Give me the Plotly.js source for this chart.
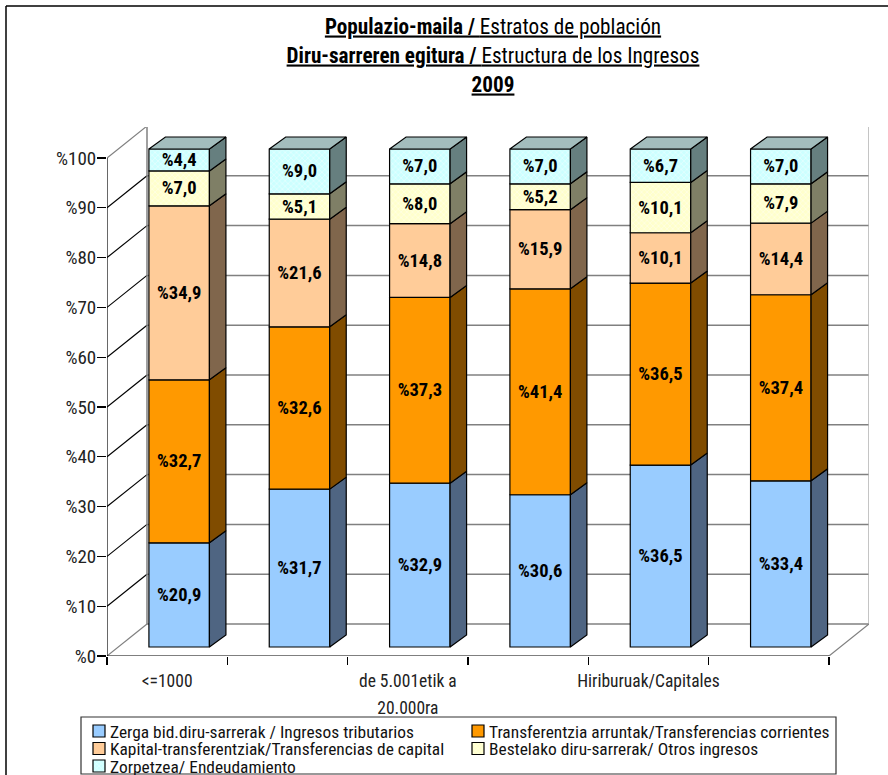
<!DOCTYPE html>
<html><head><meta charset="utf-8">
<script src="https://cdn.plot.ly/plotly-3.0.1.min.js"></script>
<style>html,body{margin:0;padding:0;background:#fff}</style>
</head><body><div id="chart" style="width:888px;height:775px"></div>
<script>
var categories = ["<=1000","","de 5.001etik a 20.000ra","","Hiriburuak/Capitales",""];
var tributarios  = [20.9,31.7,32.9,30.6,36.5,33.4];
var corrientes   = [32.7,32.6,37.3,41.4,36.5,37.4];
var capital      = [34.9,21.6,14.8,15.9,10.1,14.4];
var otros        = [7.0,5.1,8.0,5.2,10.1,7.9];
var endeudamiento= [4.4,9.0,7.0,7.0,6.7,7.0];
var seriesValues = [tributarios,corrientes,capital,otros,endeudamiento];
var seriesNames = ["Zerga bid.diru-sarrerak / Ingresos tributarios","Transferentzia arruntak/Transferencias corrientes","Kapital-transferentziak/Transferencias de capital","Bestelako diru-sarrerak/ Otros ingresos","Zorpetzea/ Endeudamiento"];
var frontColors = ["#99CCFF","#FF9900","#FFCC99","#FFFFCC","#CCFFFF"];
var sideColors  = ["#4F6582","#804C00","#80664C","#7F7F66","#667F7F"];
var topColor = "#A3BDBD";
var yTicks = [0,10,20,30,40,50,60,70,80,90,100];

var FONT = '"Roboto Condensed",Roboto,"Liberation Sans",sans-serif';
var PXX = 120.33, PXY = 4.98;
var W=888,H=775,L=107,R=19,T=127,B=119;
var wallDX = 40/PXX, wallDY = 32/PXY;
var barDX = 12/PXX, barBase = 9/PXY, barW = 60.5/PXX, depthX = 16.5/PXX, depthY = 12/PXY;
var xMax = (W-L-R)/PXX, yMax = (H-T-B)/PXY;
function px2paperX(p){return (p-L)/(W-L-R);}
function px2paperY(p){return (H-B-p)/(H-T-B);}

var traces=[], totals=categories.map(function(_,i){return seriesValues.reduce(function(s,a){return s+a[i];},0);});
var cum=categories.map(function(){return 0;});
var sideTraces=[], topX=[], topY=[];
seriesValues.forEach(function(vals,s){
  var scaled=vals.map(function(v,i){return v/totals[i]*100;});
  var base=cum.map(function(c){return c+barBase;});
  var pattern = s>=3 ? {shape:"x",bgcolor:frontColors[s],fgcolor:"#ffffff",fgopacity:0.7,size:4,solidity:0.25} : {shape:""};
  traces.push({type:"bar",name:seriesNames[s],x:categories.map(function(_,i){return i+0.5+barDX;}),
    y:scaled,base:base,width:barW,
    marker:{color:frontColors[s],line:{color:"#000",width:1.2},pattern:pattern},
    text:vals.map(function(v){return "%"+v.toFixed(1).replace(".",",");}),
    textposition:"inside",insidetextanchor:"middle",textangle:0,constraintext:"none",
    insidetextfont:{family:FONT,size:18.5,color:"#000",weight:"bold"},hoverinfo:"skip"});
  var sx=[],sy=[];
  categories.forEach(function(_,i){
    var r=i+0.5+barDX+barW/2, b=base[i], t=base[i]+scaled[i];
    sx.push(r,r+depthX,r+depthX,r,r,null); sy.push(b,b+depthY,t+depthY,t,b,null);
    if(s===4){var l=r-barW; topX.push(l,r,r+depthX,l+depthX,l,null); topY.push(t,t,t+depthY,t+depthY,t,null);}
  });
  sideTraces.push({type:"scatter",mode:"lines",x:sx,y:sy,fill:"toself",fillcolor:sideColors[s],line:{color:"#000",width:1.2},showlegend:false,hoverinfo:"skip"});
  cum=cum.map(function(c,i){return c+scaled[i];});
});
sideTraces.push({type:"scatter",mode:"lines",x:topX,y:topY,fill:"toself",fillcolor:topColor,line:{color:"#000",width:1.2},showlegend:false,hoverinfo:"skip"});
traces=traces.concat(sideTraces);

var GRID="#808080", shapes=[];
function ln(x0,y0,x1,y1,c,w){shapes.push({type:"line",xref:"x",yref:"y",x0:x0,y0:y0,x1:x1,y1:y1,line:{color:c,width:w},layer:"below"});}
yTicks.forEach(function(v){
  ln(wallDX,v+wallDY,xMax,v+wallDY,GRID,1.5);
  ln(0,v,wallDX,v+wallDY,v===0||v===100?GRID:"#000",1.2);
});
ln(wallDX,wallDY,wallDX,100+wallDY,GRID,1.5);
ln(xMax,wallDY,xMax,100+wallDY,"#B0B0B0",1.5);
ln(6,0,xMax,wallDY,GRID,1.2);
ln(0,0,0,100,"#000",1.2);
ln(0,0,6,0,"#000",1.2);
// chart frame (top and left edges) and legend box
function pline(x0,y0,x1,y1){shapes.push({type:"line",xref:"paper",yref:"paper",x0:px2paperX(x0),y0:px2paperY(y0),x1:px2paperX(x1),y1:px2paperY(y1),line:{color:"#000",width:1.5}});}
pline(6,6,W,6); pline(6,6,6,H);
shapes.push({type:"rect",xref:"paper",yref:"paper",x0:px2paperX(81),x1:px2paperX(836),y0:px2paperY(717),y1:px2paperY(774),line:{color:"#333",width:1.2},fillcolor:"#fff",layer:"below"});

var layout={width:W,height:H,margin:{l:L,r:R,t:T,b:B,pad:0},autosize:false,paper_bgcolor:"#fff",plot_bgcolor:"rgba(0,0,0,0)",
  barmode:"overlay",showlegend:true,hovermode:false,
  font:{family:FONT,color:"#111"},
  title:{text:"<b>Populazio-maila / </b>Estratos de población<br><b>Diru-sarreren egitura / </b>Estructura de los Ingresos<br><b>2009</b>",
    font:{family:FONT,size:21.2,color:"#000",lineposition:"under"},xref:"container",x:493/888,xanchor:"center",yref:"container",y:1-33.5/775,yanchor:"middle",automargin:false},
  xaxis:{range:[0,xMax],tickmode:"array",tickvals:[0.5,2.5,4.5],ticktext:["<=1000","de 5.001etik a<br>20.000ra","Hiriburuak/Capitales"],
    ticks:"outside",ticklen:9,tickcolor:"rgba(0,0,0,0)",showgrid:false,zeroline:false,showline:false,tickfont:{family:FONT,size:17.5,color:"#222"},tickangle:0,
    minor:{tick0:0,dtick:1,ticks:"outside",ticklen:8,tickcolor:"#000",tickwidth:1.2,showgrid:false}},
  yaxis:{range:[0,yMax],tickmode:"array",tickvals:yTicks,ticktext:yTicks.map(function(v){return "%"+v;}),
    ticks:"outside",ticklen:9,tickcolor:"#000",tickwidth:1.2,ticklabelstandoff:-3,showgrid:false,zeroline:false,showline:false,tickfont:{family:FONT,size:19,color:"#222"}},
  legend:{orientation:"h",xref:"container",yref:"container",x:70/W,xanchor:"left",y:1-690/H,yanchor:"top",entrywidth:334,entrywidthmode:"pixels",
    borderwidth:0,bgcolor:"rgba(0,0,0,0)",font:{family:FONT,size:17.4,color:"#111"},itemclick:false,itemdoubleclick:false,traceorder:"normal"},
  shapes:shapes};

function respace(el,stepPx){
  el.querySelectorAll("tspan.line").forEach(function(t,i){t.setAttribute("dy",(i*stepPx)+"px");});
}
Plotly.newPlot("chart",traces,layout,{displayModeBar:false,staticPlot:true}).then(function(){
  var root=document.getElementById("chart");
  // tighten line spacing of title and multi-line tick label to the reference's
  var t=root.querySelector(".gtitle"); if(t) respace(t,29);
  root.querySelectorAll(".xtick text").forEach(function(e){respace(e,27);});
  // compact three-row legend with small gap between swatch and text
  var lg=root.querySelector(".legend");
  lg.setAttribute("transform","translate(70,717)");
  var sb=lg.querySelector(".scrollbox"); if(sb){sb.removeAttribute("clip-path");sb.style.clipPath="none";}
  lg.removeAttribute("clip-path");
  root.querySelectorAll(".legend .traces").forEach(function(tr,i){
    var col=i%2,row=Math.floor(i/2);
    tr.setAttribute("transform","translate("+(col*379)+","+(14+row*17.5)+")");
    tr.querySelectorAll(".legendpoints path").forEach(function(p){p.setAttribute("transform","translate(29,0)");});
  });
});
</script></body></html>
